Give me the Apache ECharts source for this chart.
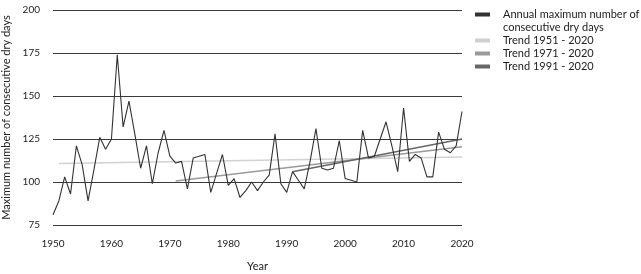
<!DOCTYPE html>
<html>
<head>
<meta charset="utf-8">
<script src="https://cdn.jsdelivr.net/npm/echarts@6/dist/echarts.min.js"></script>
<style>
  html, body { margin: 0; padding: 0; background: #fff; }
  #chart { width: 641px; height: 274px; }
</style>
</head>
<body>
<div id="chart"></div>
<script>
// annual max consecutive dry days, 1950 - 2020
var startYear = 1950;
var dryDays = [
  81, 89, 103, 93, 121, 110, 89, 107, 126, 119,
  125, 174, 132, 147, 128, 108, 121, 99, 117, 130,
  115, 111, 112, 96, 114, 115, 116, 94, 105, 116,
  98, 102, 91, 95, 100, 95, 100, 104, 128, 99,
  94, 106, 101, 96, 112, 131, 108, 107, 108, 124,
  102, 101, 100, 130, 114, 115, 125, 135, 121, 106,
  143, 112, 116, 114, 103, 103, 129, 119, 117, 121,
  141
];

// trend lines: [start year, value], [end year, value]
var trend1951 = [[1951, 110.7], [2020, 114.5]];
var trend1971 = [[1971, 100.6], [2020, 120.5]];
var trend1991 = [[1991, 106.0], [2020, 125.0]];

var seriesNames = [
  'Annual maximum number of\nconsecutive dry days',
  'Trend 1951 - 2020',
  'Trend 1971 - 2020',
  'Trend 1991 - 2020'
];

var font = 'Lato';

var mainData = dryDays.map(function (v, i) { return [startYear + i, v]; });

var myChart = echarts.init(document.getElementById('chart'));

var option = {
  animation: false,
  textStyle: { fontFamily: font },
  grid: { left: 53, right: 179, top: 10, bottom: 49, outerBoundsMode: 'none', containLabel: false },
  legend: [{
    orient: 'vertical',
    left: 475,
    top: -5,
    padding: 0,
    itemWidth: 15,
    itemHeight: 4,
    icon: 'rect',
    data: [seriesNames[0]],
    // blank first line so the icon sits beside the first line of text
    formatter: function (n) { return '\n' + n; },
    textStyle: { fontFamily: font, fontSize: 11, color: '#222', lineHeight: 13, padding: [0, 0, 0, 8] }
  }, {
    orient: 'vertical',
    left: 475,
    top: 34,
    padding: 0,
    itemGap: 0,
    itemWidth: 15,
    itemHeight: 4,
    icon: 'rect',
    data: seriesNames.slice(1),
    textStyle: { fontFamily: font, fontSize: 11, color: '#222', lineHeight: 13, padding: [0, 0, 0, 8] }
  }],
  xAxis: {
    type: 'value',
    min: 1950,
    max: 2020,
    interval: 10,
    name: 'Year',
    nameLocation: 'middle',
    nameGap: 36,
    nameTextStyle: { fontFamily: font, fontSize: 11, color: '#222' },
    axisLine: { show: false },
    axisTick: { show: false },
    splitLine: { show: false },
    axisLabel: {
      margin: 14, fontFamily: font, fontSize: 10, color: '#222',
      formatter: function (v) { return String(v); }
    }
  },
  yAxis: {
    type: 'value',
    min: 75,
    max: 200,
    interval: 25,
    name: 'Maximum number of consecutive dry days',
    nameLocation: 'middle',
    nameGap: 40,
    nameTextStyle: { fontFamily: font, fontSize: 11, color: '#222' },
    axisLine: { show: false },
    axisTick: { show: false },
    axisLabel: { margin: 13, fontFamily: font, fontSize: 10, color: '#222' },
    splitLine: { lineStyle: { color: '#3a3a3a', width: 1 } }
  },
  series: [{
    name: seriesNames[0],
    type: 'line',
    data: mainData,
    symbol: 'none',
    color: '#333',
    lineStyle: { color: '#333', width: 1.1 },
    z: 5
  }, {
    name: seriesNames[1],
    type: 'line',
    data: trend1951,
    symbol: 'none',
    color: '#cfcfcf',
    lineStyle: { color: '#d2d2d2', width: 1.5 }
  }, {
    name: seriesNames[2],
    type: 'line',
    data: trend1971,
    symbol: 'none',
    color: '#9a9a9a',
    lineStyle: { color: '#9a9a9a', width: 1.5 }
  }, {
    name: seriesNames[3],
    type: 'line',
    data: trend1991,
    symbol: 'none',
    color: '#666',
    lineStyle: { color: '#666', width: 1.5 }
  }]
};

myChart.setOption(option);
</script>
</body>
</html>
